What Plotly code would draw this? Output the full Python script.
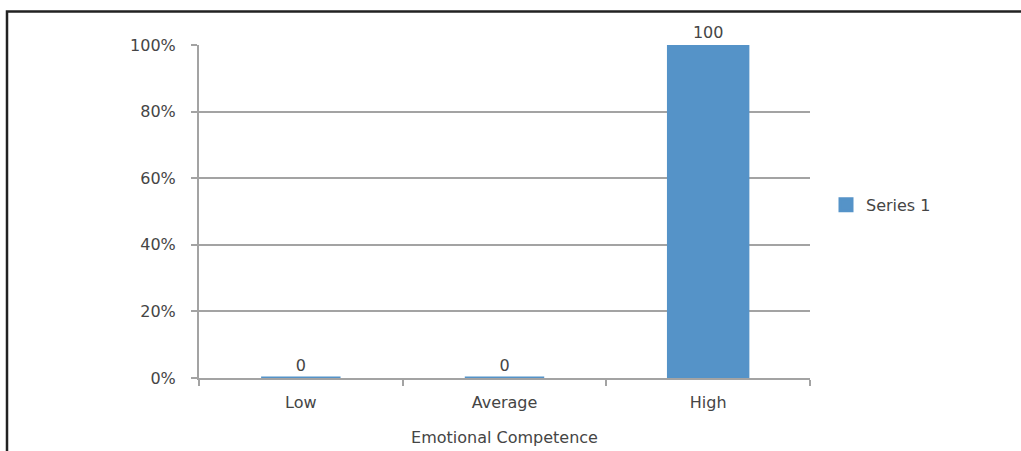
import plotly.graph_objects as go

categories = ["Low", "Average", "High"]
values = [0, 0, 100]
tick_vals = [0, 20, 40, 60, 80, 100]
tick_text = ["0%", "20%", "40%", "60%", "80%", "100%"]
series_name = "Series 1"
x_title = "Emotional Competence"

BAR = "#5593c8"
GRID = "#a3a3a3"
TEXT = "#454545"
FONT = "'DejaVu Sans', 'Open Sans', sans-serif"
FS = 16

fig = go.Figure()
fig.add_trace(go.Bar(
    x=categories,
    y=values,
    name=series_name,
    marker=dict(color=BAR, line=dict(color=BAR, width=3)),
    width=0.39,
    text=[str(v) for v in values],
    textposition="outside",
    textfont=dict(family=FONT, size=FS, color=TEXT),
    cliponaxis=False,
    showlegend=True,
))

fig.update_layout(
    width=1021,
    height=451,
    margin=dict(l=199, r=211, t=45, b=73),
    paper_bgcolor="white",
    plot_bgcolor="white",
    font=dict(family=FONT, size=FS, color=TEXT),
    showlegend=True,
    legend=dict(
        x=(826 - 199) / 611, y=0.52, xanchor="left", yanchor="middle",
        font=dict(family=FONT, size=FS, color=TEXT),
        bgcolor="rgba(0,0,0,0)",
    ),
    xaxis=dict(
        type="category",
        automargin=False,
        layer="below traces",
        showgrid=False,
        showline=True,
        linecolor=GRID,
        linewidth=2,
        ticks="outside",
        tickson="boundaries",
        ticklen=6,
        tickwidth=2,
        tickcolor=GRID,
        ticklabelstandoff=9,
        tickfont=dict(family=FONT, size=FS, color=TEXT),
        title=dict(text=x_title, font=dict(family=FONT, size=FS, color=TEXT), standoff=21),
        zeroline=False,
    ),
    yaxis=dict(
        range=[0, 100],
        automargin=False,
        layer="below traces",
        tickvals=tick_vals,
        ticktext=tick_text,
        showgrid=True,
        gridcolor=GRID,
        gridwidth=2,
        showline=True,
        linecolor=GRID,
        linewidth=2,
        ticks="outside",
        ticklen=6,
        tickwidth=2,
        tickcolor=GRID,
        ticklabelstandoff=12,
        tickfont=dict(family=FONT, size=FS, color=TEXT),
        zeroline=False,
    ),
)

# outer frame (left and top edges visible)
fig.add_shape(
    type="rect", xref="paper", yref="paper",
    x0=(7 - 199) / 611, x1=(1040 - 199) / 611,
    y0=(378 - 470) / 333, y1=(378 - 11.5) / 333,
    line=dict(color="#222222", width=2.5),
    fillcolor="rgba(0,0,0,0)",
    layer="below",
)

fig.write_html("out.html")
